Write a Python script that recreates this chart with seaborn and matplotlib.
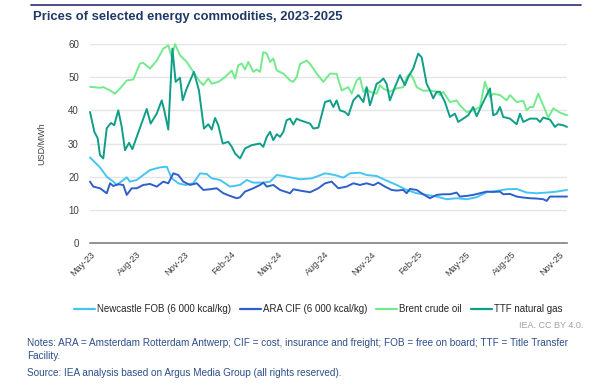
import matplotlib
matplotlib.use("Agg")
import matplotlib.pyplot as plt
import matplotlib.lines as mlines
import seaborn as sns
import pandas as pd

# x positions are months since May 2023
tick_pos = [0, 3, 6, 9, 12, 15, 18, 21, 24, 27, 30]
tick_labels = ["May-23", "Aug-23", "Nov-23", "Feb-24", "May-24", "Aug-24",
               "Nov-24", "Feb-25", "May-25", "Aug-25", "Nov-25"]

newcastle_m = [0, 0.64, 1.07, 1.49, 1.71, 2.13, 2.35, 2.56, 2.99, 3.41, 3.84, 4.48,
               4.91, 5.23, 5.65, 6.08, 6.61, 7.04, 7.47, 7.79, 8.32, 8.96, 9.60,
               10.03, 10.45, 11.09, 11.52, 11.95, 12.37, 12.80, 13.44, 14.20, 15.04,
               15.67, 16.21, 16.63, 17.27, 17.70, 18.34, 18.98, 19.62, 20.26, 20.90,
               21.54, 22.18, 22.82, 23.46, 24.10, 24.74, 25.38, 26.02, 26.66, 27.30,
               27.94, 28.58, 29.22, 29.86, 30.52]
newcastle = [25.8, 22.8, 20.0, 18.5, 17.5, 19.0, 19.8, 18.5, 19.0, 20.5, 22.0, 22.8,
             23.0, 19.5, 18.0, 17.5, 18.0, 21.0, 20.8, 19.5, 19.0, 17.0, 17.5,
             19.0, 18.2, 18.2, 18.5, 20.5, 20.2, 19.8, 19.2, 19.5, 21.0,
             20.5, 19.7, 21.0, 21.2, 20.5, 20.2, 18.8, 17.5, 16.0, 15.0,
             14.5, 14.0, 13.2, 13.5, 13.2, 13.8, 15.3, 15.7, 16.2, 16.3,
             15.2, 15.0, 15.2, 15.5, 16.0]

ara_m = [0, 0.21, 0.64, 1.07, 1.28, 1.49, 1.81, 2.13, 2.35, 2.67, 2.99, 3.41, 3.84,
         4.27, 4.69, 5.01, 5.33, 5.65, 5.97, 6.40, 6.83, 7.25, 7.68, 8.11, 8.53,
         8.96, 9.39, 9.60, 9.92, 10.45, 10.88, 11.09, 11.31, 11.73, 12.16, 12.80,
         13.01, 13.44, 14.08, 14.61, 15.04, 15.46, 15.89, 16.42, 16.85, 17.27,
         17.70, 18.13, 18.45, 18.87, 19.30, 19.62, 20.04, 20.26, 20.47, 20.90,
         21.32, 21.75, 22.18, 22.60, 23.03, 23.46, 23.67, 24.10, 24.52, 24.95,
         25.38, 25.80, 26.23, 26.44, 26.87, 27.30, 27.72, 28.15, 28.58, 29.00,
         29.22, 29.43, 30.07, 30.52]
ara = [18.5, 17.0, 16.5, 15.0, 18.0, 17.2, 17.7, 17.5, 14.5, 16.5, 16.5, 17.5, 17.8,
       17.0, 18.5, 18.0, 21.0, 20.5, 18.5, 17.5, 18.0, 16.0, 16.2, 16.5, 15.0,
       14.2, 13.5, 13.8, 15.5, 16.5, 17.5, 18.2, 17.0, 17.5, 16.0, 15.0,
       16.2, 15.8, 15.3, 16.5, 18.0, 18.5, 16.5, 17.0, 18.0, 17.5,
       18.0, 17.4, 18.2, 17.0, 16.0, 15.8, 16.0, 15.0, 16.3, 16.0,
       14.7, 13.5, 14.5, 14.7, 14.7, 15.2, 14.0, 14.2, 14.5, 15.0,
       15.5, 15.4, 15.5, 14.7, 14.8, 14.0, 13.7, 13.5, 13.4, 13.2,
       12.7, 14.0, 14.0, 14.0]

brent_m = [0, 0.64, 0.85, 1.28, 1.60, 1.92, 2.35, 2.77, 3.20, 3.41, 3.84, 4.27, 4.69,
           5.01, 5.23, 5.44, 5.76, 6.19, 6.61, 7.04, 7.25, 7.57, 7.79, 8.21, 8.64,
           9.07, 9.28, 9.49, 9.71, 9.92, 10.13, 10.45, 10.66, 10.88, 11.09, 11.31,
           11.52, 11.73, 11.95, 12.37, 12.80, 13.01, 13.22, 13.44, 13.86, 14.08,
           14.50, 14.93, 15.36, 15.78, 16.10, 16.53, 16.74, 17.06, 17.27, 17.49,
           17.70, 17.91, 18.34, 18.55, 18.77, 19.19, 19.62, 20.04, 20.26, 20.47,
           20.68, 20.90, 21.32, 21.75, 22.18, 22.39, 22.60, 23.03, 23.46, 23.67,
           24.10, 24.52, 24.95, 25.27, 25.59, 25.80, 26.23, 26.66, 26.87, 27.30,
           27.72, 27.94, 28.15, 28.36, 28.68, 29.00, 29.32, 29.64, 30.07, 30.52]
brent = [47.1, 46.8, 47.0, 46.0, 45.0, 46.6, 49.0, 49.3, 54.1, 54.3, 52.6, 55.0, 58.6,
         59.6, 56.0, 60.0, 56.6, 54.6, 51.6, 48.6, 47.6, 49.6, 48.0, 48.6, 50.0,
         52.0, 49.6, 53.6, 54.1, 52.3, 54.6, 51.6, 52.3, 51.6, 57.6, 57.1,
         54.6, 55.6, 52.0, 51.1, 49.0, 48.6, 50.0, 54.0, 55.0, 54.0,
         51.1, 48.6, 51.1, 51.0, 46.0, 47.0, 45.0, 49.0, 49.9, 45.6,
         46.6, 45.6, 45.0, 47.6, 46.5, 45.6, 46.6, 47.0, 50.0, 51.1,
         49.6, 47.0, 45.9, 46.0, 45.6, 44.6, 45.6, 42.5, 43.0, 41.5,
         39.5, 40.0, 41.0, 48.6, 44.0, 45.0, 44.6, 43.0, 44.6, 42.5,
         42.9, 40.0, 41.0, 41.0, 45.0, 41.5, 37.8, 40.6, 39.3, 38.5]

ttf_m = [0, 0.28, 0.49, 0.64, 0.85, 1.07, 1.34, 1.55, 1.81, 2.03, 2.24, 2.50, 2.71,
         2.99, 3.63, 3.88, 4.27, 4.59, 4.75, 5.01, 5.27, 5.48, 5.76, 5.93, 6.19,
         6.65, 6.97, 7.29, 7.57, 7.79, 8.00, 8.21, 8.49, 8.85, 9.07, 9.28, 9.60,
         9.92, 10.35, 10.88, 11.09, 11.31, 11.52, 11.73, 11.95, 12.16, 12.37,
         12.58, 12.80, 13.01, 13.22, 13.44, 14.08, 14.29, 14.61, 15.04, 15.36,
         15.57, 15.78, 15.99, 16.31, 16.53, 16.85, 17.17, 17.49, 17.70, 17.91,
         18.34, 18.55, 18.77, 18.98, 19.19, 19.51, 19.83, 20.15, 20.36, 20.68,
         21.00, 21.22, 21.54, 21.75, 21.96, 22.18, 22.39, 22.71, 23.03, 23.35,
         23.56, 23.88, 24.20, 24.52, 24.74, 25.06, 25.38, 25.59, 25.80, 26.02,
         26.23, 26.44, 26.87, 27.30, 27.51, 27.72, 28.15, 28.58, 28.79, 29.00,
         29.43, 29.75, 29.96, 30.28, 30.52]
ttf = [39.5, 33.5, 31.6, 26.5, 25.5, 34.6, 36.2, 35.5, 40.0, 35.0, 28.0, 30.2, 28.3,
       32.0, 40.4, 36.0, 39.0, 43.0, 40.0, 34.2, 58.6, 48.6, 49.8, 43.0, 46.6,
       51.6, 46.0, 34.5, 35.8, 34.2, 37.7, 35.5, 30.0, 30.5, 29.0, 27.0, 25.5,
       28.5, 29.5, 30.0, 29.0, 32.0, 33.5, 31.0, 32.8, 32.0, 33.5,
       37.0, 37.5, 35.7, 37.5, 37.0, 36.0, 34.5, 34.8, 42.5, 43.0,
       41.0, 43.0, 40.0, 39.5, 38.5, 43.0, 44.6, 42.5, 47.0, 41.5,
       48.0, 48.6, 49.6, 48.0, 43.0, 47.0, 50.6, 47.6, 50.0, 52.6,
       57.1, 56.0, 48.0, 46.0, 43.6, 45.6, 45.6, 42.5, 38.0, 39.0,
       36.5, 37.5, 38.5, 41.0, 38.2, 41.5, 44.6, 46.6, 38.5, 39.0,
       41.0, 38.0, 37.5, 35.8, 39.0, 36.5, 37.5, 37.5, 36.5, 37.8,
       37.2, 35.0, 35.8, 35.5, 35.0]

series_names = ["Newcastle FOB (6 000 kcal/kg)", "ARA CIF (6 000 kcal/kg)",
                "Brent crude oil", "TTF natural gas"]
colors = ["#45C6F2", "#2F5FCB", "#74EA8E", "#0F9E87"]

frames = []
for name, xs, ys in zip(series_names,
                        [newcastle_m, ara_m, brent_m, ttf_m],
                        [newcastle, ara, brent, ttf]):
    frames.append(pd.DataFrame({"month": xs, "value": ys, "series": name}))
df = pd.concat(frames, ignore_index=True)

sns.set_style("white")
plt.rcParams["font.family"] = ["Liberation Sans", "DejaVu Sans"]

fig = plt.figure(figsize=(6.02, 3.86), dpi=100)
ax = fig.add_axes([90 / 602, 1 - 243 / 386, 477 / 602, 199 / 386])

ax = sns.lineplot(data=df, x="month", y="value", hue="series", hue_order=series_names,
                  palette=colors, estimator=None, sort=False, linewidth=1.4,
                  legend=False, ax=ax)
for ln in ax.lines:
    ln.set_clip_on(False)

ax.set_xlim(0, 30.52)
ax.set_ylim(0, 60)
ax.set_yticks(range(0, 61, 10))
ax.tick_params(axis="y", length=0, labelsize=7, labelcolor="#404040", pad=8)
ax.set_xticks(tick_pos)
ax.set_xticklabels(tick_labels, rotation=45, ha="right", rotation_mode="anchor")
ax.tick_params(axis="x", length=3, width=0.8, color="#808080", labelsize=6.6,
               labelcolor="#404040", pad=2)
ax.set_xlabel("")
ax.set_ylabel("USD/MWh", fontsize=6.5, color="#404040", labelpad=16)

for v in range(10, 61, 10):
    ax.axhline(v, color="#e5e5e5", lw=1, zorder=0)
for s in ["top", "right", "left"]:
    ax.spines[s].set_visible(False)
ax.spines["bottom"].set_color("#808080")
ax.spines["bottom"].set_linewidth(1.2)

# legend
handles = [mlines.Line2D([], [], color=c, lw=1.6) for c in colors]
fig.legend(handles, series_names, loc="center", bbox_to_anchor=(318 / 602, 1 - 309 / 386),
           ncol=4, frameon=False, fontsize=7, handlelength=2.2, handletextpad=0.2,
           columnspacing=0.9)

# header rule and title
fig.add_artist(mlines.Line2D([31 / 602, 581 / 602], [1 - 5 / 386, 1 - 5 / 386],
                             color="#3c3f78", lw=1.3))
fig.text(33 / 602, 1 - 17 / 386, "Prices of selected energy commodities, 2023-2025",
         fontsize=9.4, fontweight="bold", color="#1f3a66", va="center")

fig.text(583 / 602, 1 - 326 / 386, "IEA. CC BY 4.0.", fontsize=6.5, color="#a0a0a0",
         ha="right", va="center")
note_color = "#2d4f8a"
fig.text(27 / 602, 1 - 343 / 386,
         "Notes: ARA = Amsterdam Rotterdam Antwerp; CIF = cost, insurance and freight; "
         "FOB = free on board; TTF = Title Transfer", fontsize=7.2, color=note_color,
         va="center")
fig.text(27 / 602, 1 - 356 / 386, "Facility.", fontsize=7.2, color=note_color, va="center")
fig.text(27 / 602, 1 - 373 / 386,
         "Source: IEA analysis based on Argus Media Group (all rights reserved).",
         fontsize=7.2, color=note_color, va="center")

fig.savefig("out.png", dpi=100)
